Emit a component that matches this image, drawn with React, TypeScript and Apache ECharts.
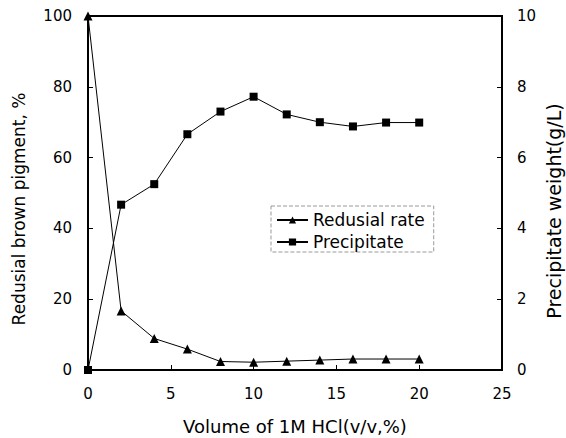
import React, { useEffect, useRef } from "react";
import * as echarts from "echarts";

const volumes = [0, 2, 4, 6, 8, 10, 12, 14, 16, 18, 20];
const residualRate = [100, 16.7, 8.9, 5.9, 2.4, 2.2, 2.5, 2.8, 3.1, 3.1, 3.1];
const precipitate = [0, 4.67, 5.25, 6.66, 7.3, 7.72, 7.22, 7.0, 6.88, 6.99, 6.99];

const FONT = "DejaVu Sans";

export default function App() {
  const ref = useRef<HTMLDivElement>(null);
  useEffect(() => {
    if (!ref.current) return;
    const chart = echarts.init(ref.current, null, { renderer: "svg" });
    const axisCommon = {
      axisLine: { show: true, lineStyle: { color: "#000", width: 2 } },
      axisTick: { show: true, inside: true, length: 5, lineStyle: { color: "#000", width: 1 } },
      axisLabel: { color: "#000", fontFamily: FONT, fontSize: 15 },
      splitLine: { show: false },
    };
    chart.setOption({
      animation: false,
      backgroundColor: "#fff",
      grid: {
        left: 88,
        right: 64,
        top: 16,
        bottom: 68,
        show: true,
        borderColor: "#000",
        borderWidth: 2,
        backgroundColor: "transparent",
      },
      xAxis: {
        type: "value",
        min: 0,
        max: 25,
        interval: 5,
        ...axisCommon,
        axisLabel: { ...axisCommon.axisLabel, margin: 16 },
      },
      yAxis: [
        {
          type: "value",
          min: 0,
          max: 100,
          interval: 20,
          position: "left",
          ...axisCommon,
          axisLabel: { ...axisCommon.axisLabel, margin: 16 },
        },
        {
          type: "value",
          min: 0,
          max: 10,
          interval: 2,
          position: "right",
          ...axisCommon,
          axisLabel: { ...axisCommon.axisLabel, margin: 15 },
        },
      ],
      legend: {
        orient: "vertical",
        left: 271,
        top: 206,
        padding: [5, 9, 1, 5],
        itemGap: 4,
        itemWidth: 31,
        itemHeight: 9,
        borderColor: "#999",
        borderWidth: 1,
        borderType: "dashed",
        textStyle: { color: "#000", fontFamily: FONT, fontSize: 17, lineHeight: 18 },
        data: ["Redusial rate", "Precipitate"],
      },
      series: [
        {
          name: "Redusial rate",
          type: "line",
          yAxisIndex: 0,
          data: volumes.map((v, i) => [v, residualRate[i]]),
          symbol: "triangle",
          symbolSize: 9,
          clip: false,
          lineStyle: { color: "#000", width: 1 },
          itemStyle: { color: "#000" },
        },
        {
          name: "Precipitate",
          type: "line",
          yAxisIndex: 1,
          data: volumes.map((v, i) => [v, precipitate[i]]),
          symbol: "rect",
          symbolSize: 8,
          clip: false,
          lineStyle: { color: "#000", width: 1 },
          itemStyle: { color: "#000" },
        },
      ],
      graphic: [
        {
          type: "text",
          x: 19,
          y: 209,
          rotation: Math.PI / 2,
          style: {
            text: "Redusial brown pigment, %",
            fontFamily: FONT,
            fontSize: 17,
            fill: "#000",
            align: "center",
            verticalAlign: "middle",
          },
        },
        {
          type: "text",
          x: 554,
          y: 211,
          rotation: Math.PI / 2,
          style: {
            text: "Precipitate weight(g/L)",
            fontFamily: FONT,
            fontSize: 19,
            fill: "#000",
            align: "center",
            verticalAlign: "middle",
          },
        },
        {
          type: "text",
          x: 295,
          y: 426,
          style: {
            text: "Volume of 1M HCl(v/v,%)",
            fontFamily: FONT,
            fontSize: 18,
            fill: "#000",
            align: "center",
            verticalAlign: "middle",
          },
        },
      ],
    });
    return () => chart.dispose();
  }, []);
  return <div ref={ref} style={{ width: 566, height: 438, position: "absolute", left: 0, top: 0 }} />;
}
